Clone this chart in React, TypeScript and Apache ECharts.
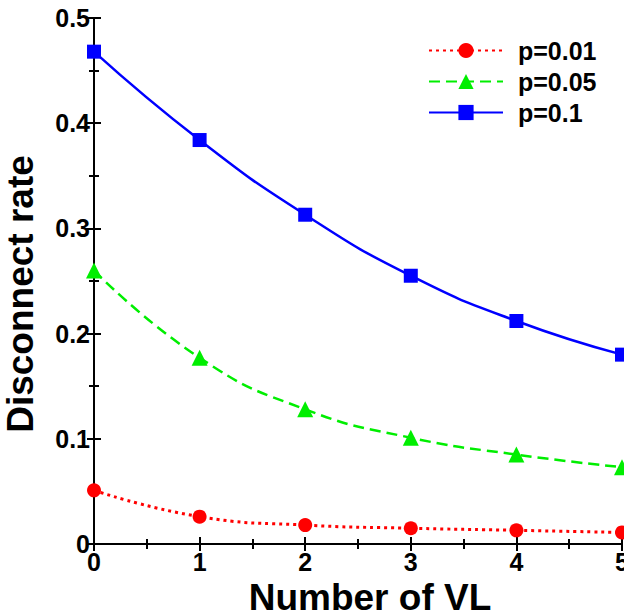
import React, { useEffect, useRef } from "react";
import * as echarts from "echarts";

const xValues = [0, 1, 2, 3, 4, 5];
const p001 = [0.051, 0.026, 0.018, 0.015, 0.013, 0.011];
const p005 = [0.26, 0.177, 0.128, 0.101, 0.085, 0.073];
const p01 = [0.468, 0.384, 0.313, 0.255, 0.212, 0.18];
const seriesNames = ["p=0.01", "p=0.05", "p=0.1"];

const FONT = "Liberation Sans, Arial, sans-serif";

export default function App() {
  const ref = useRef<HTMLDivElement>(null);
  useEffect(() => {
    const chart = echarts.init(ref.current!, null, { renderer: "svg" });
    const pair = (arr: number[]) => xValues.map((x, i) => [x, arr[i]]);
    const axisCommon = {
      axisLine: { show: true, lineStyle: { color: "#000", width: 2 } },
      axisTick: { show: true, inside: true, length: 7, lineStyle: { color: "#000", width: 2 } },
      minorTick: { show: true, splitNumber: 2, length: 5, lineStyle: { color: "#000", width: 2 } },
      splitLine: { show: false },
    };
    chart.setOption({
      animation: false,
      grid: { left: 94, right: 2, top: 18, bottom: 71, containLabel: false, outerBoundsMode: "none" },
      legend: {
        left: 423,
        top: 33,
        orient: "vertical",
        itemWidth: 74,
        itemHeight: 19,
        itemGap: 6,
        data: seriesNames,
        textStyle: { fontFamily: FONT, fontSize: 25, color: "#000", fontWeight: "bold", padding: [0, 0, 0, 10] },
      },
      xAxis: [
        {
          type: "value", min: 0, max: 5, interval: 1, position: "bottom",
          ...axisCommon,
          axisLabel: { fontFamily: FONT, fontSize: 25, fontWeight: "bold", color: "#000", margin: 5 },
          name: "Number of VL", nameLocation: "middle", nameGap: 29,
          nameTextStyle: { fontFamily: FONT, fontSize: 37, fontWeight: "bold", color: "#000", padding: [0, 0, 0, 24] },
        },
        {
          type: "value", min: 0, max: 5, interval: 1, position: "top",
          ...axisCommon, axisLabel: { show: false },
        },
      ],
      yAxis: [
        {
          type: "value", min: 0, max: 0.5, interval: 0.1, position: "left",
          ...axisCommon,
          axisLabel: {
            fontFamily: FONT, fontSize: 25, fontWeight: "bold", color: "#000", margin: 4,
            formatter: (v: number) => (v === 0 ? "0" : v.toFixed(1)),
          },
          name: "Disconnect rate", nameLocation: "middle", nameGap: 55,
          nameTextStyle: { fontFamily: FONT, fontSize: 37, fontWeight: "bold", color: "#000", padding: [0, 26, 0, 0] },
        },
        {
          type: "value", min: 0, max: 0.5, interval: 0.1, position: "right",
          ...axisCommon, axisLabel: { show: false },
        },
      ],
      series: [
        {
          name: seriesNames[0], type: "line", smooth: true, data: pair(p001),
          symbol: "circle", symbolSize: 14,
          itemStyle: { color: "#ff0000" },
          lineStyle: { color: "#ff0000", width: 3, type: [3, 4] },
        },
        {
          name: seriesNames[1], type: "line", smooth: true, data: pair(p005),
          symbol: "triangle", symbolSize: 16,
          itemStyle: { color: "#00ee00" },
          lineStyle: { color: "#00ee00", width: 2.5, type: [11, 6] },
        },
        {
          name: seriesNames[2], type: "line", smooth: true, data: pair(p01),
          symbol: "rect", symbolSize: 14,
          itemStyle: { color: "#0000ff" },
          lineStyle: { color: "#0000ff", width: 2.5 },
        },
      ],
    });
    return () => chart.dispose();
  }, []);
  return <div ref={ref} style={{ width: 624, height: 615, position: "absolute", left: 0, top: 0 }} />;
}
